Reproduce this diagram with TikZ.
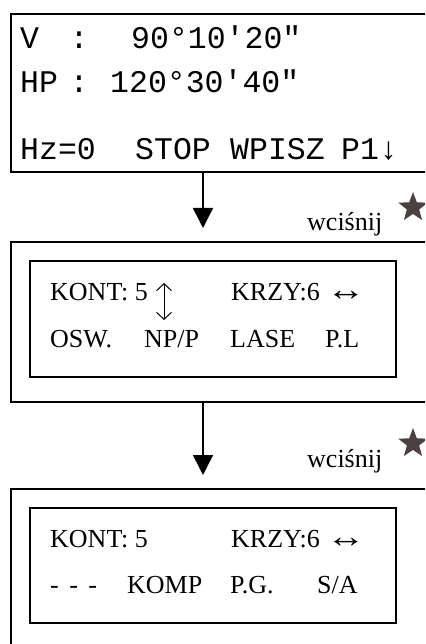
\documentclass[tikz,border=0pt]{standalone}
\usepackage{fontspec}
\setmainfont{Liberation Serif}
\setmonofont{Liberation Mono}
\usetikzlibrary{shapes,arrows.meta,positioning}
\definecolor{stardark}{RGB}{77,64,64}
\newcommand{\lrarr}{\raisebox{-0.5pt}{\scalebox{1.5}[1.25]{↔}}}

\begin{document}
\begin{tikzpicture}[x=1pt,y=-1pt]
\clip (0,0) rectangle (425,644);

\tikzstyle{screen}=[rectangle,draw=black,line width=1.5pt,inner sep=0pt]
\tikzstyle{lcd}=[anchor=base west,inner sep=0pt,font=\ttfamily\fontsize{31.5}{31.5}\selectfont]
\tikzstyle{key}=[anchor=base west,inner sep=0pt,font=\fontsize{26}{26}\selectfont]
\tikzstyle{press}=[star,star points=5,star point ratio=2.4,fill=stardark,inner sep=0pt,minimum size=31pt]
\tikzstyle{flow}=[line width=1.5pt,-{Triangle[length=20pt,width=20pt]}]

% first screen
\node (scr1) at (223,93) [screen,minimum width=424pt,minimum height=158pt] {};
\node (v) at (20,49) [lcd] {V};
\node (vcol) at (69.5,49) [lcd] {:};
\node (vval) at (131,49) [lcd] {90°10'20"};
\node (hp) at (20,93) [lcd] {HP};
\node (hpcol) at (69.5,93) [lcd] {:};
\node (hpval) at (110,93) [lcd] {120°30'40"};
\node (hz) at (20,160) [lcd] {Hz=0};
\node (stop) at (135,160) [lcd] {STOP};
\node (wpisz) at (230,160) [lcd] {WPISZ};
\node (pone) at (341,160) [lcd] {P1↓};

\coordinate (tip1) at (203,228);
\draw[flow] (scr1.south -| tip1) -- (tip1);
\node (wc1) at (307,230) [key] {wciśnij};
\node (st1) at (413,207.5) [press] {};

% second screen
\node (scr2) at (223,322) [screen,minimum width=424pt,minimum height=160pt] {};
\node (in2) at (213,319) [screen,minimum width=366pt,minimum height=116pt] {};
\node (kont2) at (50,300) [key] {KONT: 5};
\node (krzy2) at (231,300) [key] {KRZY:6 \lrarr};
\node (osw) at (50,347) [key] {OSW.};
\node (npp) at (144,347) [key] {NP/P};
\node (lase) at (230,347) [key] {LASE};
\node (pl) at (325,347) [key] {P.L};
\coordinate (up) at (164,283);
\coordinate (dn) at (164,320);
\draw[line width=1pt,{Straight Barb[length=7pt,width=15pt]}-{Straight Barb[length=7pt,width=15pt]}] (up) -- (dn);

\coordinate (tip2) at (203,475);
\draw[flow] (scr2.south -| tip2) -- (tip2);
\node (wc2) at (307,467) [key] {wciśnij};
\node (st2) at (413,443.5) [press] {};

% third screen
\node (scr3) at (223,574) [screen,minimum width=424pt,minimum height=170pt] {};
\node (in3) at (213,565.5) [screen,minimum width=366pt,minimum height=115pt] {};
\node (kont3) at (50,547) [key] {KONT: 5};
\node (krzy3) at (231,547) [key] {KRZY:6 \lrarr};
\node (dash) at (50,593) [key] {-\hspace{4pt} -\hspace{4pt} -};
\node (komp) at (127,593) [key] {KOMP};
\node (pg) at (230,593) [key] {P.G.};
\node (sa) at (317,593) [key] {S/A};

\end{tikzpicture}
\end{document}
